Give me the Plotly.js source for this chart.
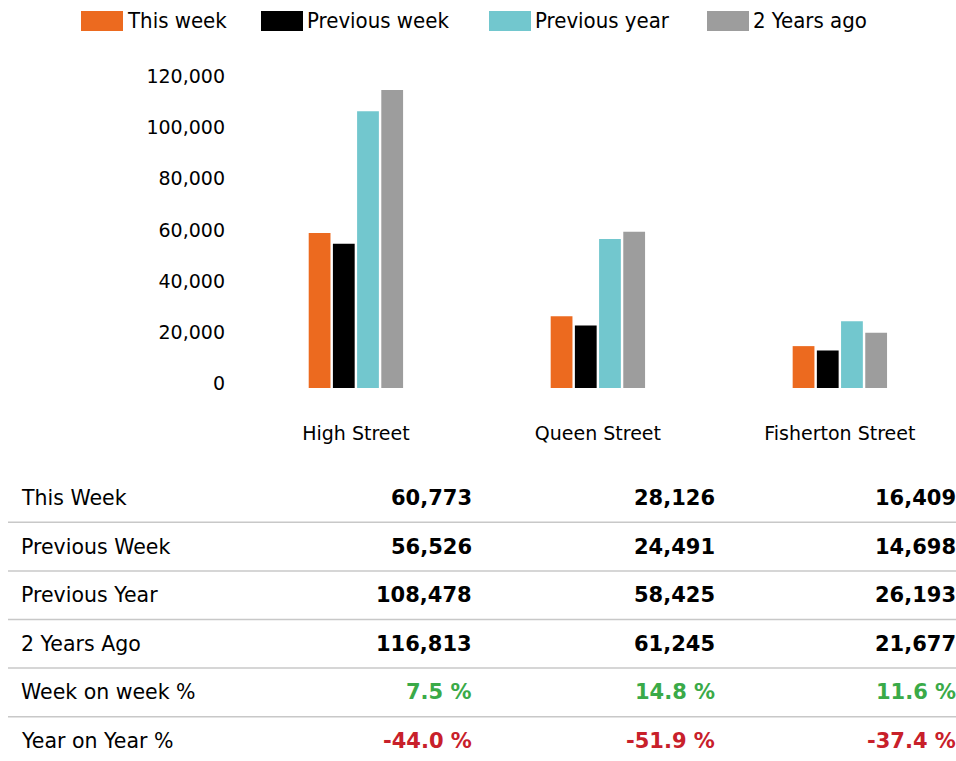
<!DOCTYPE html>
<html>
<head>
<meta charset="utf-8">
<script src="https://cdn.plot.ly/plotly-3.0.1.min.js"></script>
<style>html,body{margin:0;padding:0;background:#fff;}#chart{width:956px;height:761px;}</style>
</head>
<body>
<div id="chart"></div>
<script>
// ---- data ----
const categories = ["High Street", "Queen Street", "Fisherton Street"];
const seriesNames = ["This week", "Previous week", "Previous year", "2 Years ago"];
const thisWeek = [60773, 28126, 16409];
const previousWeek = [56526, 24491, 14698];
const previousYear = [108478, 58425, 26193];
const twoYearsAgo = [116813, 61245, 21677];
const weekOnWeek = [7.5, 14.8, 11.6];
const yearOnYear = [-44.0, -51.9, -37.4];
const rowLabels = ["This Week", "Previous Week", "Previous Year", "2 Years Ago", "Week on week %", "Year on Year %"];
const yTicks = [0, 20000, 40000, 60000, 80000, 100000, 120000];

// ---- styles ----
const colors = ["#EC6A1F", "#000000", "#72C7CE", "#9D9D9D"];
const W = 956, H = 761;
const ML = 232, MR = 0;
const PW = W - ML - MR;
const px2x = px => (px - ML) / PW;   // page pixel -> paper x
const px2y = py => 1 - py / H;       // page pixel -> paper y
const seriesValues = [thisWeek, previousWeek, previousYear, twoYearsAgo];

const traces = seriesValues.map((vals, i) => ({
  type: "bar",
  name: seriesNames[i],
  x: categories,
  y: vals,
  marker: {color: colors[i], line: {width: 0}},
  hoverinfo: "none",
  showlegend: false
}));

const fmt = v => v.toLocaleString("en-US");
const pct = v => v.toFixed(1) + " %";

const annotations = [];
const shapes = [];

// legend (swatches + labels)
const legendX = [81, 261, 489, 707];
seriesNames.forEach((n, i) => {
  shapes.push({
    type: "rect", xref: "paper", yref: "paper",
    x0: px2x(legendX[i]), x1: px2x(legendX[i] + 42), y0: px2y(31), y1: px2y(11),
    fillcolor: colors[i], line: {width: 0}
  });
  annotations.push({
    xref: "paper", yref: "paper", x: px2x(legendX[i] + 44), y: px2y(21),
    xanchor: "left", yanchor: "middle", showarrow: false, text: n,
    font: {family: "DejaVu Sans Condensed", size: 22, color: "#000"}
  });
});

// table
const rowsY0 = 498, rowStep = 48.6;
const colRight = [474, 717, 958];
const tableRows = [
  thisWeek.map(fmt), previousWeek.map(fmt), previousYear.map(fmt), twoYearsAgo.map(fmt),
  weekOnWeek.map(pct), yearOnYear.map(pct)
];
const rowColor = ["#000", "#000", "#000", "#000", "#3AAA48", "#C8202A"];
rowLabels.forEach((lab, r) => {
  const ypx = rowsY0 + r * rowStep;
  annotations.push({
    xref: "paper", yref: "paper", x: px2x(19), y: px2y(ypx),
    xanchor: "left", yanchor: "middle", showarrow: false, text: lab,
    font: {family: "DejaVu Sans", size: 20.5, color: "#000"}
  });
  tableRows[r].forEach((t, c) => {
    annotations.push({
      xref: "paper", yref: "paper", x: px2x(colRight[c]), y: px2y(ypx),
      xanchor: "right", yanchor: "middle", showarrow: false, text: "<b>" + t + "</b>",
      font: {family: "DejaVu Sans", size: 21, color: rowColor[r]}
    });
  });
  if (r < rowLabels.length - 1) {
    const ly = ypx + rowStep / 2;
    shapes.push({
      type: "line", xref: "paper", yref: "paper",
      x0: px2x(8), x1: 1, y0: px2y(ly), y1: px2y(ly),
      line: {color: "#C8C8C8", width: 1.5}
    });
  }
});

const plotTop = 69, plotBottom = 388;
const layout = {
  width: W, height: H,
  margin: {l: ML, r: MR, t: 0, b: 0},
  paper_bgcolor: "#fff", plot_bgcolor: "#fff",
  barmode: "group",
  bargap: 0.6,
  bargroupgap: 0.1,
  showlegend: false,
  xaxis: {
    range: [-0.512, 2.48], showgrid: false, zeroline: false, showline: false,
    ticks: "", ticklabelstandoff: 32,
    tickfont: {family: "DejaVu Sans", size: 19, color: "#000"},
    fixedrange: true
  },
  yaxis: {
    domain: [px2y(plotBottom), px2y(plotTop)],
    range: [0, 125000], showgrid: false, zeroline: false, showline: false,
    tickmode: "array", tickvals: yTicks, ticktext: yTicks.map(fmt),
    ticks: "", ticklabelstandoff: 6, ticklabelshift: -5,
    tickfont: {family: "DejaVu Sans", size: 19, color: "#000"},
    fixedrange: true
  },
  annotations: annotations,
  shapes: shapes
};

Plotly.newPlot("chart", traces, layout, {displayModeBar: false, staticPlot: true});
</script>
</body>
</html>
